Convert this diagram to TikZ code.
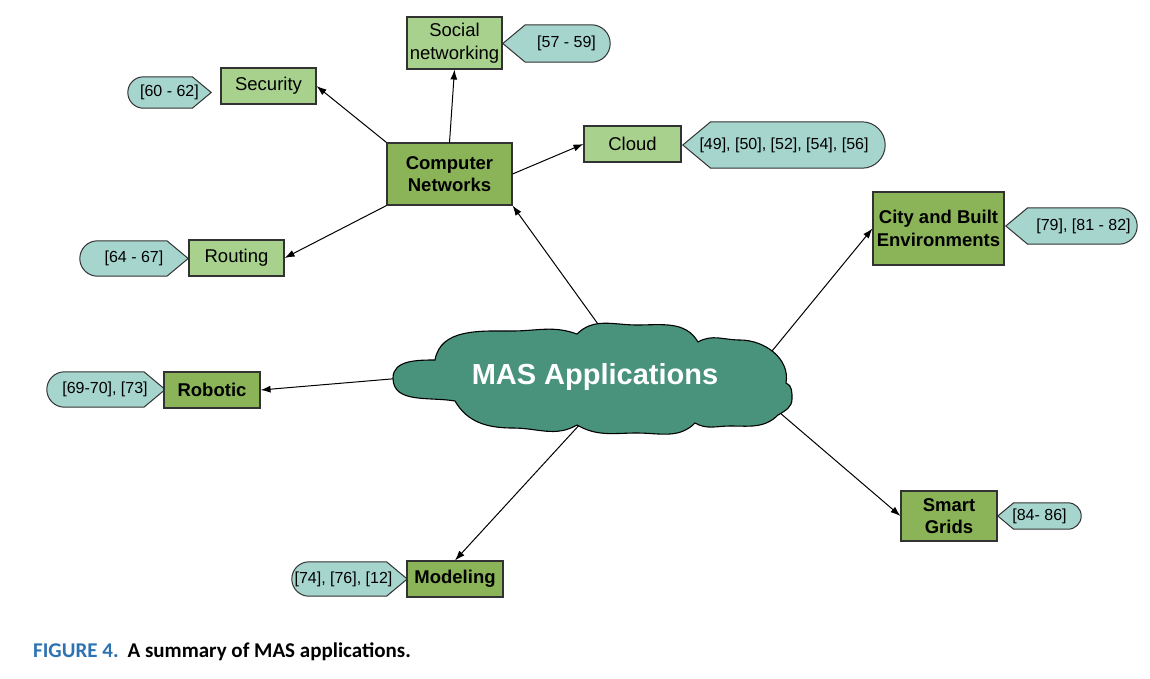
\documentclass[tikz,border=0pt]{standalone}
\usepackage{fontspec}
\setmainfont{Liberation Sans}
\newfontfamily\capfont{Carlito}
\usetikzlibrary{arrows.meta, shapes.geometric, backgrounds, calc}
\definecolor{lightGreen}{RGB}{169, 209, 142}
\definecolor{darkGreen}{RGB}{139, 180, 88}
\definecolor{tagColor}{RGB}{166, 213, 206}
\definecolor{cloudColor}{RGB}{73, 147, 124}
\definecolor{lineGray}{RGB}{50, 50, 50}
\definecolor{capBlue}{RGB}{46, 114, 178}

\begin{document}
\begin{tikzpicture}[
        x=1pt, y=-1pt,
        topic/.style={
            rectangle,
            draw=lineGray,
            line width=1.1pt,
            fill=lightGreen,
            inner sep=0pt,
            minimum width=95pt,
            minimum height=36pt,
            align=center,
            font=\fontsize{18.5}{22.5}\selectfont
        },
        field/.style={
            topic,
            fill=darkGreen,
            font=\fontsize{18.5}{22.5}\selectfont\bfseries
        },
        reftag/.style={
            inner sep=0pt,
            font=\fontsize{16}{19}\selectfont
        },
        tagline/.style={
            draw=lineGray,
            line width=1pt,
            fill=tagColor
        },
        flecha/.style={
            -{Latex[length=10pt,width=7pt]},
            line width=1pt
        }
    ]

    \useasboundingbox (0,0) rectangle (1150,678);

    % central topic (cloud outline drawn below)
    \node[ellipse, minimum width=360pt, minimum height=80pt, inner sep=0pt,
          text=white, font=\fontsize{29}{34}\selectfont\bfseries] (mas) at (595,377) {MAS Applications};

    % application fields
    \node[field, minimum width=125pt, minimum height=62pt] (cn) at (449.5,174) {Computer\\Networks};
    \node[field, minimum width=131pt, minimum height=73pt] (city) at (938.5,228.5) {City and Built\\Environments};
    \node[field, minimum width=96pt] (rob) at (212,390) {Robotic};
    \node[field, minimum width=96pt, minimum height=50pt] (grid) at (949,516) {Smart\\Grids};
    \node[field, minimum width=96pt] (mod) at (455,579) {Modeling};

    % computer network topics
    \node[topic, minimum height=52pt] (soc) at (454.5,43) {Social\\networking};
    \node[topic] (sec) at (268.5,86) {Security};
    \node[topic, minimum width=97pt] (cloudbox) at (632.5,144) {Cloud};
    \node[topic] (rout) at (236.5,258) {Routing};

    % references
    \node[reftag, minimum width=107pt, minimum height=37pt] (tsoc) at (556.5,43.5) {\hspace*{20pt}[57 - 59]};
    \node[reftag, minimum width=202pt, minimum height=46pt] (tcloud) at (784,145) {[49], [50], [52], [54], [56]};
    \node[reftag, minimum width=131pt, minimum height=36pt] (tcity) at (1071.5,226) {\hspace*{24pt}[79], [81 - 82]};
    \node[reftag, minimum width=83pt, minimum height=26pt] (tgrid) at (1039.5,516) {[84- 86]};
    \node[reftag, minimum width=83pt, minimum height=31pt] (tsec) at (169.5,92.5) {[60 - 62]};
    \node[reftag, minimum width=108pt, minimum height=35pt] (trout) at (134,258.5) {[64 - 67]};
    \node[reftag, minimum width=118pt, minimum height=35pt] (trob) at (106,389.5) {[69-70], [73]\hspace*{2pt}};
    \node[reftag, minimum width=115pt, minimum height=34pt] (tmod) at (349.5,579) {[74], [76], [12]\hspace*{12pt}};

    \begin{scope}[on background layer]
        \draw[flecha] (mas.73) -- (cn.south east);
        \draw[flecha] (mas.5) -- (city.west);
        \draw[flecha] (mas.west) -- (rob.east);
        \draw[flecha] (mas.258) -- (mod.north);
        \draw[flecha] (mas.-6) -- (grid.west);

        % cloud outline
        \draw[line width=1.1pt, fill=cloudColor] (435,360)
            to[out=80, in=180] (512,331) to[out=0, in=160] (577,334)
            to[out=45, in=180] (637,325) to[out=0, in=120] (698,342)
            to[out=30, in=180] (740,340) to[out=0, in=80] (786,383)
            to[out=-20, in=90] (792,399) to[out=-90, in=30] (778,415)
            to[out=225, in=0] (730,426) to[out=180, in=-30] (695,423)
            to[out=225, in=0] (637,433) to[out=180, in=-30] (577,425)
            to[out=210, in=0] (513,428) to[out=180, in=-60] (455,401)
            to[out=170, in=270] (393,378) to[out=90, in=180] cycle;

        \foreach \t in {tsoc, tcloud, tcity, tgrid}
            \draw[tagline] let \p1 = (\t.north), \p2 = (\t.south), \n1 = {abs(\y1-\y2)/2} in
                (\t.west) -- ([xshift=1.2*\n1]\t.north west) -- ([xshift=-\n1]\t.north east)
                arc[start angle=90, end angle=-90, radius=\n1] -- ([xshift=1.2*\n1]\t.south west) -- cycle;
        \foreach \t in {tsec, trout, trob, tmod}
            \draw[tagline] let \p1 = (\t.north), \p2 = (\t.south), \n1 = {abs(\y1-\y2)/2} in
                (\t.east) -- ([xshift=-1.2*\n1]\t.south east) -- ([xshift=\n1]\t.south west)
                arc[start angle=-90, end angle=-270, radius=\n1] -- ([xshift=-1.2*\n1]\t.north east) -- cycle;
    \end{scope}

    \draw[flecha] (cn.north west) -- (sec.east);
    \draw[flecha] (cn.north) -- (soc.south);
    \draw[flecha] (cn.east) -- (cloudbox.west);
    \draw[flecha] (cn.south west) -- (rout.east);

    % caption
    \node[anchor=west, inner sep=0pt, font=\capfont\fontsize{21}{24}\selectfont\bfseries] (caption) at (33,652)
        {\textcolor{capBlue}{FIGURE 4.}\hspace{9pt}A summary of MAS applications.};

\end{tikzpicture}
\end{document}
